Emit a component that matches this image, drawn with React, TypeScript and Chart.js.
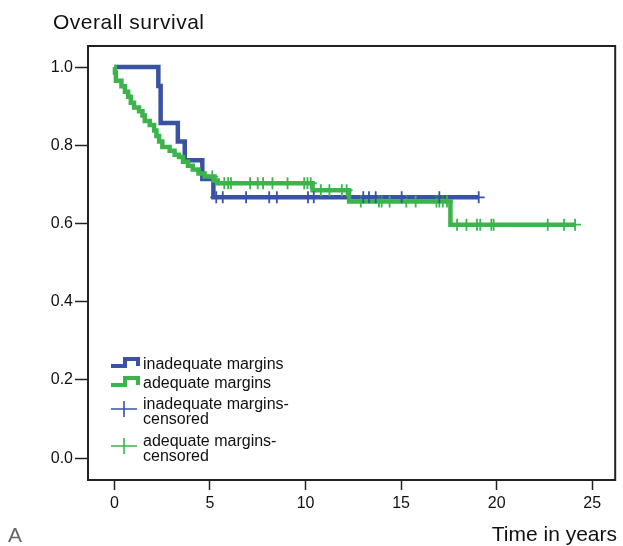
import React, { useEffect, useRef } from 'react';
import { Chart, registerables } from 'chart.js';

Chart.register(...registerables);

// ---- Data ----
const xTickValues = [0, 5, 10, 15, 20, 25];
const yTickValues = [0, 0.2, 0.4, 0.6, 0.8, 1.0];
const yTickLabels = ['0.0', '0.2', '0.4', '0.6', '0.8', '1.0'];

// inadequate margins (blue): step times and survival after each step
const inadequateTimes = [0, 2.3, 2.42, 3.32, 3.68, 4.6, 5.18, 19.06];
const inadequateSurvival = [1.0, 0.952, 0.857, 0.81, 0.762, 0.714, 0.667, 0.667];
const inadequateCensored = [5.33, 5.67, 6.89, 8.1, 8.5, 10.13, 10.43, 13.02, 13.32, 13.67, 15.03, 17.0, 19.06];

// adequate margins (green)
const adequateTimes = [
  0, 0.03, 0.08, 0.37, 0.55, 0.72, 0.86, 1.03, 1.29, 1.47, 1.59, 1.85, 2.08, 2.2, 2.34,
  2.51, 2.89, 3.15, 3.38, 3.59, 3.85, 4.1, 4.4, 4.72, 5.24, 5.41, 10.37, 12.28, 17.58, 24.1,
];
const adequateSurvival = [
  1.0, 0.986, 0.965, 0.951, 0.937, 0.924, 0.909, 0.897, 0.887, 0.876, 0.862, 0.852, 0.838, 0.824, 0.81,
  0.796, 0.786, 0.776, 0.77, 0.758, 0.748, 0.738, 0.728, 0.72, 0.71, 0.703, 0.685, 0.656, 0.597, 0.597,
];
const adequateCensored = [
  5.12, 5.75, 5.95, 6.1, 7.1, 7.5, 7.78, 8.27, 9.06, 9.93, 10.1, 10.27, 10.8, 11.25, 11.9, 12.15,
  12.89, 13.84, 13.98, 14.4, 15.27, 15.76, 16.85, 17.0, 17.18, 17.4,
  17.93, 18.42, 18.97, 19.14, 19.72, 19.84, 22.67, 23.52, 24.1,
];

const seriesNames = ['inadequate margins', 'adequate margins'];
const censoredLegend = [
  ['inadequate margins-', 'censored'],
  ['adequate margins-', 'censored'],
];

const chartTitle = 'Overall survival';
const xAxisTitle = 'Time in years';
const panelLabel = 'A';

const BLUE = '#3a52a3';
const GREEN = '#3cb44b';
const FONT = '"Liberation Sans", Arial, Helvetica, sans-serif';

function survivalAt(times: number[], surv: number[], t: number): number {
  let s = surv[0];
  for (let i = 0; i < times.length; i++) {
    if (times[i] <= t + 1e-9) s = surv[i];
  }
  return s;
}

const decorPlugin = {
  id: 'decor',
  afterDraw(chart: any) {
    const { ctx, chartArea: a } = chart;
    ctx.save();
    // plot frame
    ctx.strokeStyle = '#222';
    ctx.lineWidth = 2;
    ctx.strokeRect(a.left, a.top, a.right - a.left, a.bottom - a.top);

    // titles
    ctx.fillStyle = '#111';
    ctx.font = `21px ${FONT}`;
    ctx.textBaseline = 'alphabetic';
    ctx.textAlign = 'left';
    try { (ctx as any).letterSpacing = '0.5px'; } catch (e) {}
    ctx.fillText(chartTitle, 53, 29);
    try { (ctx as any).letterSpacing = '0px'; } catch (e) {}
    ctx.textAlign = 'right';
    ctx.fillText(xAxisTitle, 617, 541);
    ctx.textAlign = 'left';
    ctx.fillStyle = '#666';
    ctx.fillText(panelLabel, 8, 542);

    // legend
    const colors = [BLUE, GREEN];
    const stepRows = [366, 385];
    ctx.lineWidth = 4;
    ctx.lineJoin = 'miter';
    stepRows.forEach((y, i) => {
      ctx.strokeStyle = colors[i];
      ctx.beginPath();
      ctx.moveTo(111, y);
      ctx.lineTo(125, y);
      ctx.lineTo(125, y - 7);
      ctx.lineTo(138, y - 7);
      ctx.lineTo(138, y);
      ctx.stroke();
    });
    const crossRows = [409, 446];
    ctx.lineWidth = 1.6;
    crossRows.forEach((y, i) => {
      ctx.strokeStyle = colors[i];
      ctx.beginPath();
      ctx.moveTo(111, y);
      ctx.lineTo(137, y);
      ctx.moveTo(124, y - 8);
      ctx.lineTo(124, y + 8);
      ctx.stroke();
    });
    ctx.fillStyle = '#111';
    ctx.font = `16px ${FONT}`;
    ctx.textAlign = 'left';
    ctx.fillText(seriesNames[0], 143, 369);
    ctx.fillText(seriesNames[1], 143, 388);
    ctx.fillText(censoredLegend[0][0], 143, 409);
    ctx.fillText(censoredLegend[0][1], 143, 424);
    ctx.fillText(censoredLegend[1][0], 143, 446);
    ctx.fillText(censoredLegend[1][1], 143, 461);
    ctx.restore();
  },
};

export default function App() {
  const canvasRef = useRef<HTMLCanvasElement | null>(null);

  useEffect(() => {
    if (!canvasRef.current) return;
    const blueLine = inadequateTimes.map((t, i) => ({ x: t, y: inadequateSurvival[i] }));
    const greenLine = adequateTimes.map((t, i) => ({ x: t, y: adequateSurvival[i] }));
    const blueCens = inadequateCensored.map((t) => ({ x: t, y: survivalAt(inadequateTimes, inadequateSurvival, t) }));
    const greenCens = adequateCensored.map((t) => ({ x: t, y: survivalAt(adequateTimes, adequateSurvival, t) }));

    const chart = new Chart(canvasRef.current, {
      type: 'line',
      data: {
        datasets: [
          {
            label: 'inadequate margins-censored',
            data: blueCens,
            showLine: false,
            pointStyle: 'cross',
            pointRadius: 6,
            pointBorderWidth: 1.8,
            borderColor: BLUE,
            backgroundColor: BLUE,
            order: 0,
          },
          {
            label: 'adequate margins-censored',
            data: greenCens,
            showLine: false,
            pointStyle: 'cross',
            pointRadius: 6,
            pointBorderWidth: 1.8,
            borderColor: GREEN,
            backgroundColor: GREEN,
            order: 0,
          },
          {
            label: 'adequate margins',
            data: greenLine,
            stepped: true,
            borderColor: GREEN,
            borderWidth: 4.5,
            pointRadius: 0,
            fill: false,
            order: 1,
          },
          {
            label: 'inadequate margins',
            data: blueLine,
            stepped: true,
            borderColor: BLUE,
            borderWidth: 4.5,
            pointRadius: 0,
            fill: false,
            order: 2,
          },
        ],
      },
      options: {
        responsive: false,
        animation: false,
        devicePixelRatio: 1,
        layout: { padding: { top: 46, right: 6, left: 0, bottom: 0 } },
        plugins: {
          legend: { display: false },
          tooltip: { enabled: false },
          title: { display: false },
        },
        scales: {
          x: {
            type: 'linear',
            min: -1.38,
            max: 26.2,
            afterBuildTicks: (scale: any) => {
              scale.ticks = xTickValues.map((v) => ({ value: v }));
            },
            afterFit: (scale: any) => {
              scale.height = 66;
            },
            grid: {
              drawOnChartArea: false,
              drawTicks: true,
              tickLength: 10,
              tickWidth: 1.5,
              tickColor: '#222',
              color: '#222',
            },
            border: { display: false },
            ticks: {
              padding: 4,
              color: '#111',
              font: { family: FONT, size: 16 },
              maxRotation: 0,
              autoSkip: false,
              callback: (v: any) => String(v),
            },
          },
          y: {
            type: 'linear',
            min: -0.056,
            max: 1.054,
            afterBuildTicks: (scale: any) => {
              scale.ticks = yTickValues.map((v) => ({ value: v }));
            },
            afterFit: (scale: any) => {
              scale.width = 88;
            },
            grid: {
              drawOnChartArea: false,
              drawTicks: true,
              tickLength: 13,
              tickWidth: 1.5,
              tickColor: '#222',
              color: '#222',
            },
            border: { display: false },
            ticks: {
              padding: 2,
              color: '#111',
              font: { family: FONT, size: 16 },
              autoSkip: false,
              callback: (_v: any, i: number) => yTickLabels[i],
            },
          },
        },
      },
      plugins: [decorPlugin],
    });
    return () => chart.destroy();
  }, []);

  return (
    <div style={{ position: 'fixed', left: 0, top: 0, width: 623, height: 546, background: '#fff' }}>
      <canvas ref={canvasRef} width={623} height={546} style={{ display: 'block' }} />
    </div>
  );
}
